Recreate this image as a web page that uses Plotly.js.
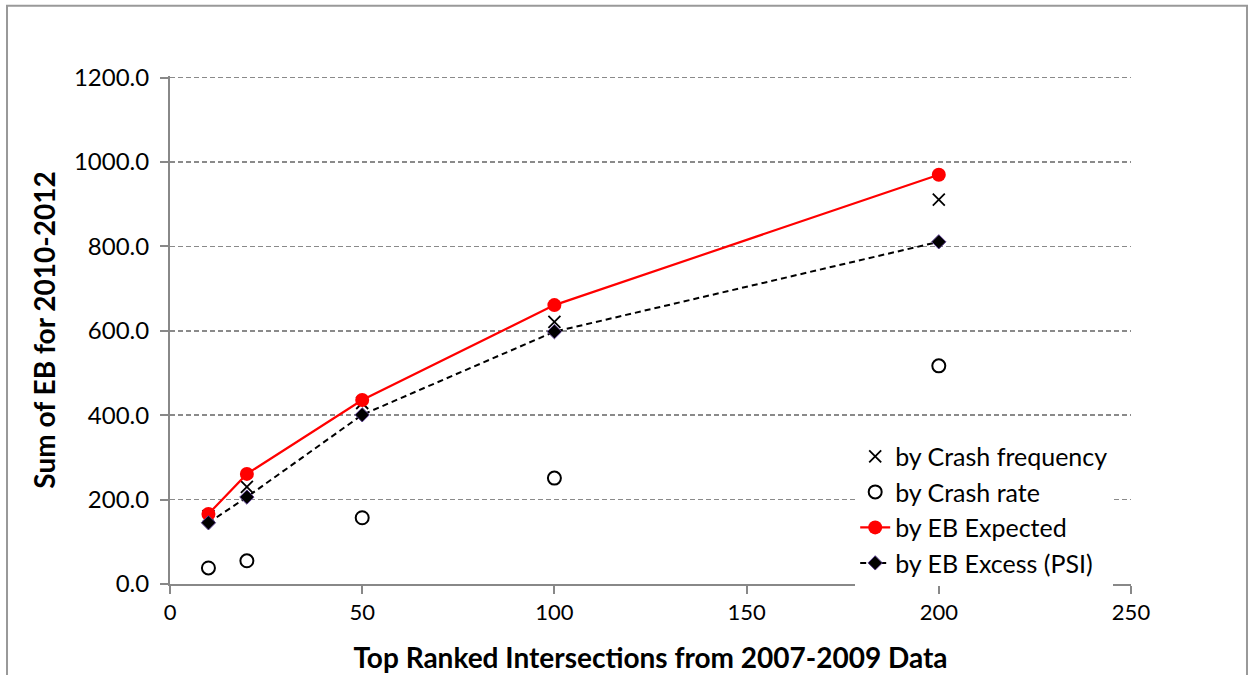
<!DOCTYPE html>
<html>
<head>
<meta charset="utf-8">
<script src="https://cdn.plot.ly/plotly-3.0.1.min.js"></script>
<style>
html,body{margin:0;padding:0;background:#fff;}
#chart{width:1253px;height:675px;}
</style>
</head>
<body>
<div id="chart"></div>
<script>
const topN = [10, 20, 50, 100, 200];
const crashFrequency = [161, 230, 429, 621, 911];
const crashRate = [38, 55, 157, 251, 517];
const ebExpected = [166, 261, 436, 661, 970];
const ebExcess = [145, 206, 401, 598, 811];

const names = ["by Crash frequency", "by Crash rate", "by EB Expected", "by EB Excess (PSI)"];

const traces = [
  {x: topN, y: crashFrequency, name: names[0], type: "scatter", mode: "markers",
   marker: {symbol: "x-thin-open", size: 12, color: "#000", line: {width: 1.8, color: "#000"}}},
  {x: topN, y: crashRate, name: names[1], type: "scatter", mode: "markers",
   marker: {symbol: "circle-open", size: 13, color: "#000", line: {width: 2, color: "#000"}}},
  {x: topN, y: ebExpected, name: names[2], type: "scatter", mode: "lines+markers",
   line: {color: "#ff0000", width: 2.2},
   marker: {symbol: "circle", size: 14, color: "#ff0000"}},
  {x: topN, y: ebExcess, name: names[3], type: "scatter", mode: "lines+markers",
   line: {color: "#000", width: 2, dash: "6px,4px"},
   marker: {symbol: "diamond", size: 11, color: "#000", line: {width: 1, color: "#5b3f8f"}}}
];

const font = "Lato, 'Open Sans', sans-serif";
const layout = {
  width: 1253, height: 675,
  margin: {l: 170, r: 122, t: 76, b: 91},
  paper_bgcolor: "#fff", plot_bgcolor: "#fff",
  font: {family: font, size: 22, color: "#000"},
  showlegend: true,
  legend: {x: 0.713, y: 0.296, xanchor: "left", yanchor: "top",
    bgcolor: "#fff", borderwidth: 0, font: {family: font, size: 25, color: "#000"}},
  xaxis: {
    range: [0, 250], dtick: 50, tick0: 0,
    showgrid: false, zeroline: false,
    showline: true, linecolor: "#888", linewidth: 2,
    ticks: "outside", ticklen: 8, tickcolor: "#888", tickwidth: 2,
    tickfont: {family: font, size: 22},
    title: {text: "<b>Top Ranked Intersections from 2007-2009 Data</b>", font: {family: font, size: 28}, standoff: 24}
  },
  yaxis: {
    range: [0, 1204], dtick: 200, tick0: 0, tickformat: ".1f",
    showgrid: true, gridcolor: "#8a8a8a", gridwidth: 1.5, griddash: "5px,3px",
    zeroline: false,
    showline: true, linecolor: "#888", linewidth: 2,
    ticks: "outside", ticklen: 8, tickcolor: "#888", tickwidth: 2,
    ticklabelstandoff: 6,
    tickfont: {family: font, size: 24},
    title: {text: "<b>Sum of EB for 2010-2012</b>", font: {family: font, size: 28}, standoff: 10}
  },
  shapes: [
    {type: "rect", xref: "paper", yref: "paper",
     x0: -0.1696, x1: 1.1207, y0: -0.3, y1: 1.1383,
     line: {color: "#999", width: 2}, fillcolor: "rgba(0,0,0,0)", layer: "below"},
    {type: "rect", xref: "paper", yref: "paper",
     x0: 0.664, x1: 1, y0: 0.02, y1: 0.3,
     line: {width: 0}, fillcolor: "#fff", layer: "between"}
  ]
};

Plotly.newPlot("chart", traces, layout, {displayModeBar: false, staticPlot: true});
</script>
</body>
</html>
